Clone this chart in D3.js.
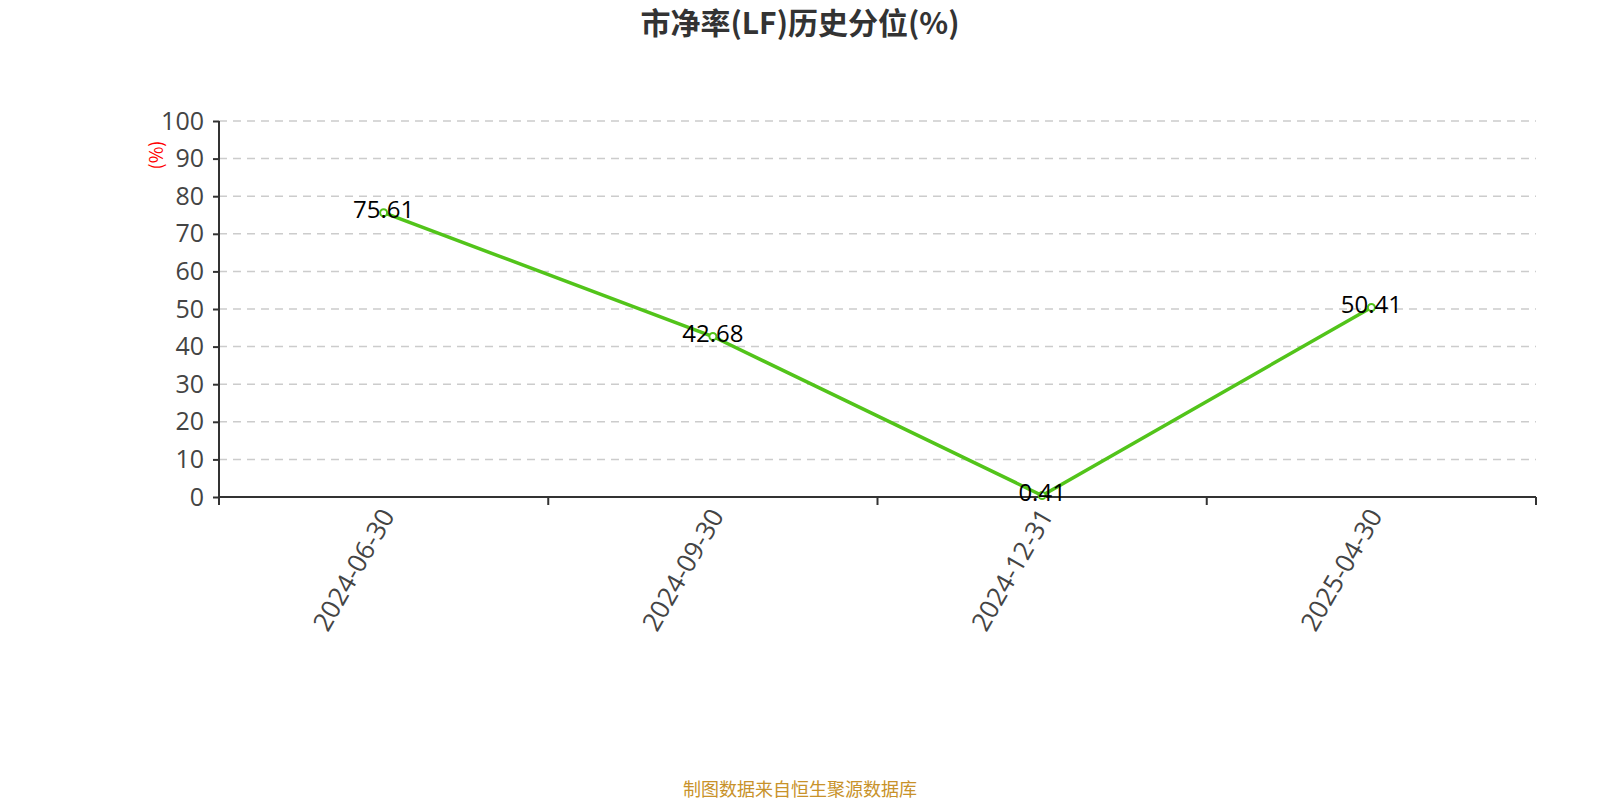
<!DOCTYPE html>
<html><head><meta charset="utf-8">
<script src="https://cdn.jsdelivr.net/npm/d3@7"></script>
<style>body{margin:0;background:#fff;}svg{display:block;font-family:"Microsoft YaHei","Noto Sans CJK SC","Noto Sans",sans-serif;}</style>
</head><body><svg id="c" width="1600" height="800"></svg>
<script>
const categories = ["2024-06-30","2024-09-30","2024-12-31","2025-04-30"];
const values = [75.61, 42.68, 0.41, 50.41];
const yTicks = [0,10,20,30,40,50,60,70,80,90,100];
const titleText = "市净率(LF)历史分位(%)";
const unitText = "(%)";
const footerText = "制图数据来自恒生聚源数据库";

const svg = d3.select("#c");
const pLeft = 219, pRight = 1536, pTop = 121, pBottom = 497;
const x = d3.scaleBand().domain(categories).range([pLeft, pRight]);
const y = d3.scaleLinear().domain([0,100]).range([pBottom, pTop]);
const numFont = "'Open Sans','Noto Sans',sans-serif";

svg.append("text").attr("x",800).attr("y",34).attr("text-anchor","middle")
  .attr("font-size",30).attr("font-weight","bold").attr("fill","#333").text(titleText);

// grid
svg.append("g").selectAll("line").data(yTicks.filter(d=>d>0)).join("line")
  .attr("x1",pLeft).attr("x2",pRight).attr("y1",d=>y(d)).attr("y2",d=>y(d))
  .attr("stroke","#ccc").attr("stroke-width",1.5).attr("stroke-dasharray","8,6");

// y axis
const ya = svg.append("g").attr("transform",`translate(${pLeft},0)`)
  .call(d3.axisLeft(y).tickValues(yTicks).tickSize(6).tickPadding(9));
ya.select(".domain").attr("stroke","#333").attr("stroke-width",2).attr("d",`M0,${pTop}V${pBottom}`);
ya.selectAll(".tick line").attr("stroke","#333").attr("stroke-width",2);
ya.selectAll(".tick text").attr("font-size",25).attr("fill","#444").attr("font-family",numFont);

// x axis
const xa = svg.append("g").attr("transform",`translate(0,${pBottom})`);
xa.append("line").attr("x1",pLeft).attr("x2",pRight).attr("stroke","#333").attr("stroke-width",2);
const bounds = categories.map(c=>x(c)).concat([pRight]);
xa.selectAll("line.tk").data(bounds).join("line").attr("class","tk")
  .attr("x1",d=>d).attr("x2",d=>d).attr("y1",0).attr("y2",8).attr("stroke","#333").attr("stroke-width",2);
xa.selectAll("text").data(categories).join("text")
  .attr("transform",d=>`translate(${x(d)+x.bandwidth()/2+4},14) rotate(-60)`)
  .attr("text-anchor","end").attr("dy","0.35em").attr("font-size",26).attr("fill","#444")
  .attr("font-family",numFont).text(d=>d);

// unit
svg.append("text").attr("transform","translate(157,155) rotate(-90)").attr("text-anchor","middle")
  .attr("dy","0.35em").attr("font-size",18).attr("fill","red").text(unitText);

// line
const cx = i=>x(categories[i])+x.bandwidth()/2;
svg.append("path").datum(values).attr("fill","none").attr("stroke","#52c41a").attr("stroke-width",3.5)
  .attr("d",d3.line().x((d,i)=>cx(i)).y(d=>y(d)));
svg.selectAll("circle.pt").data(values).join("circle").attr("class","pt")
  .attr("cx",(d,i)=>cx(i)).attr("cy",d=>y(d)).attr("r",3.5)
  .attr("fill","#fff").attr("stroke","#52c41a").attr("stroke-width",2);
svg.selectAll("text.lbl").data(values).join("text").attr("class","lbl")
  .attr("x",(d,i)=>cx(i)).attr("y",d=>y(d)-3).attr("text-anchor","middle").attr("dy","0.35em")
  .attr("font-size",24).attr("fill","#000").attr("font-family",numFont)
  .text(d=>d.toFixed(2));

svg.append("text").attr("x",800).attr("y",796).attr("text-anchor","middle")
  .attr("font-size",18).attr("fill","#c8922a").text(footerText);
</script></body></html>
